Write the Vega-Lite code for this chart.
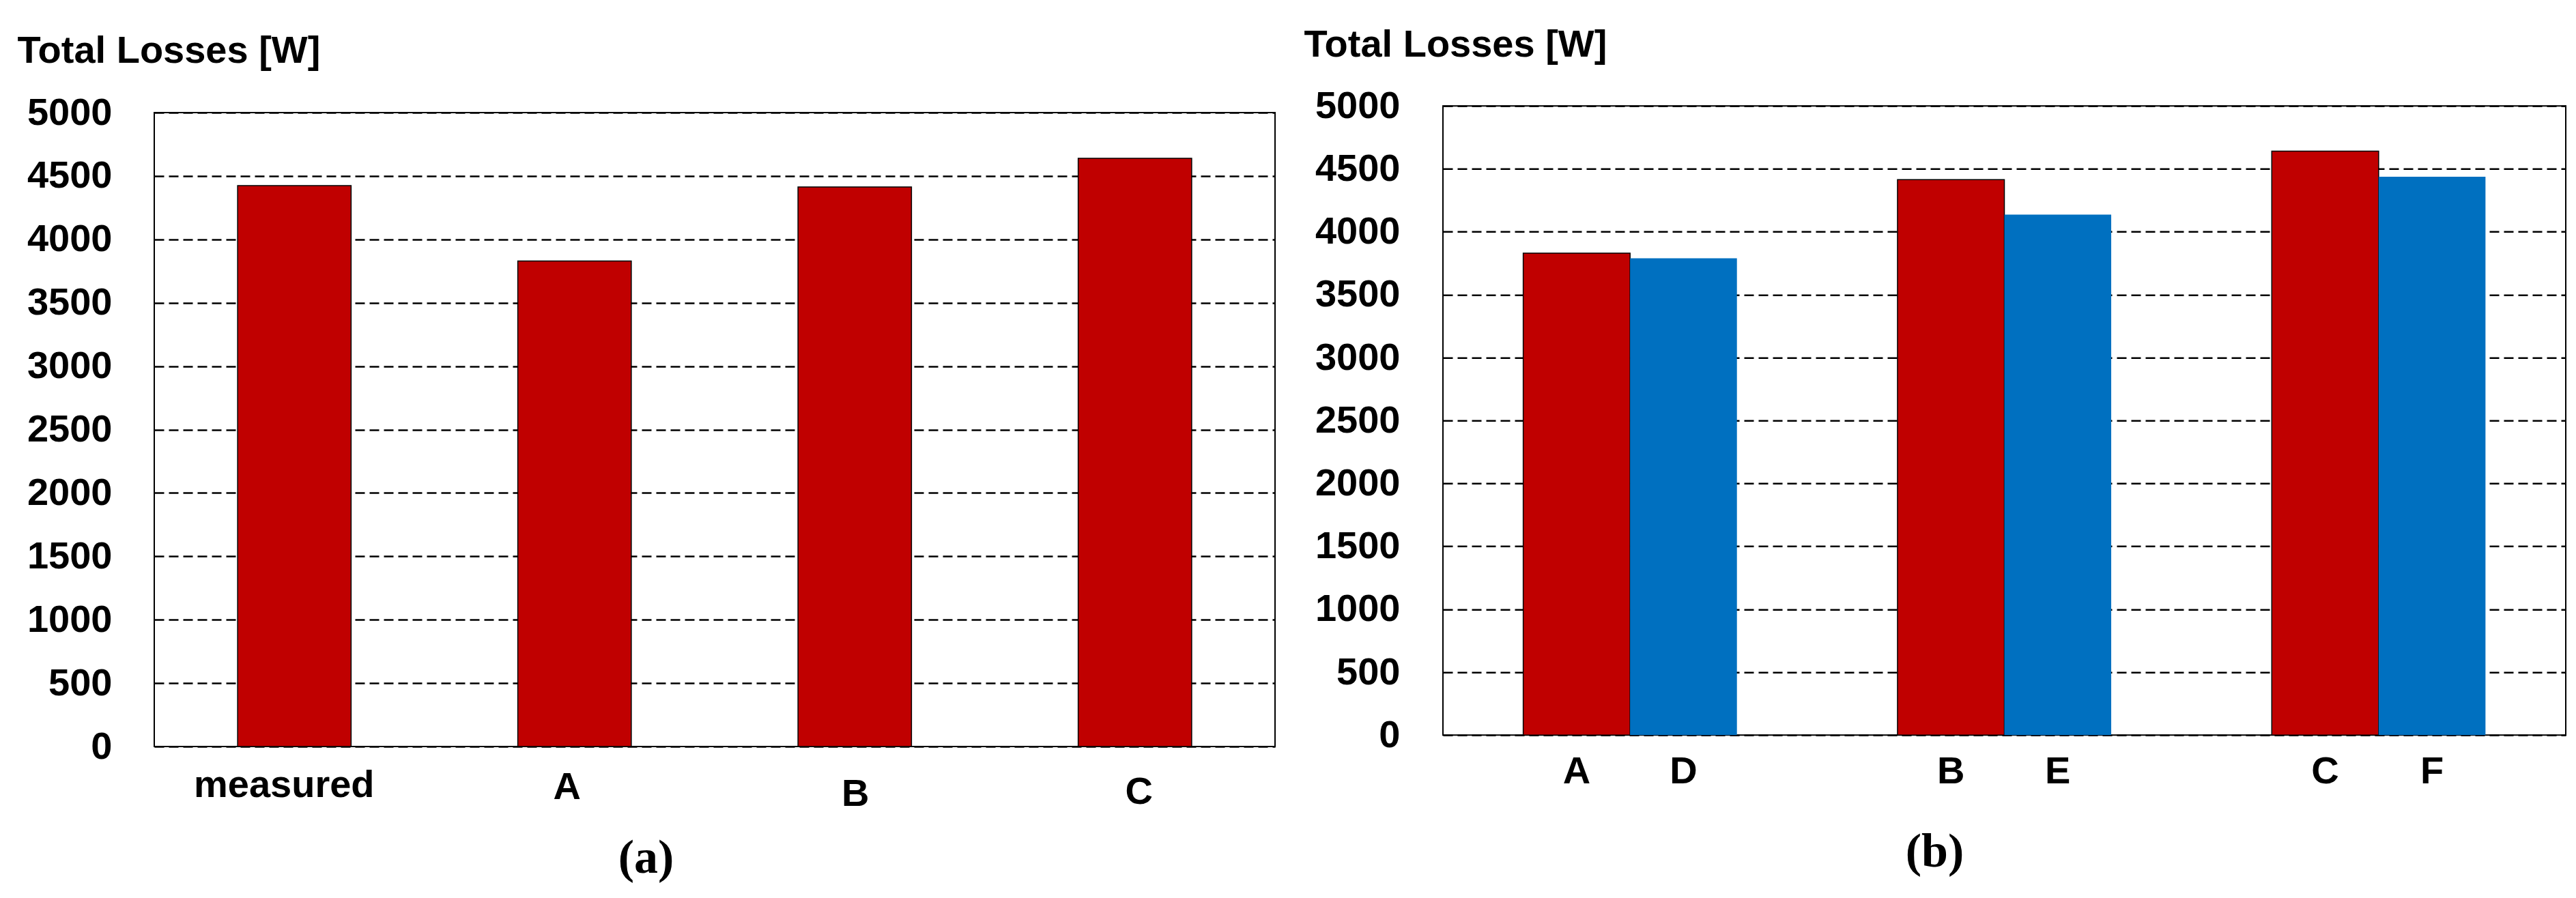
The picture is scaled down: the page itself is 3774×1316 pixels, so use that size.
{
  "$schema": "https://vega.github.io/schema/vega-lite/v6.json",
  "background": "white",
  "padding": {"left": 24, "top": 36, "right": 0, "bottom": 0},
  "spacing": 40,
  "center": true,
  "config": {
    "font": "Liberation Sans",
    "view": {"stroke": "black", "strokeWidth": 2},
    "axis": {
      "labelFont": "Liberation Sans",
      "labelFontSize": 56,
      "labelFontWeight": "bold",
      "labelColor": "black",
      "labelLimit": 0,
      "titleFont": "Liberation Sans",
      "titleFontSize": 56,
      "titleFontWeight": "bold",
      "titleColor": "black",
      "ticks": false,
      "domain": false
    }
  },
  "hconcat": [
    {
      "width": 1642,
      "height": 929,
      "title": {"text": "(a)", "orient": "bottom", "anchor": "middle", "frame": "bounds", "font": "Liberation Serif", "fontSize": 70, "fontWeight": "bold", "color": "black", "offset": 33},
      "data": {"values": [
        {"case": "measured", "losses": 4424},
        {"case": "A", "losses": 3829},
        {"case": "B", "losses": 4414},
        {"case": "C", "losses": 4640}
      ]},
      "mark": {"type": "bar", "color": "#C00000", "stroke": "black", "strokeWidth": 1.5},
      "encoding": {
        "x": {
          "field": "case", "type": "nominal", "sort": null,
          "scale": {"paddingInner": 0.595, "paddingOuter": 0.2975},
          "axis": {
            "title": null, "labelAngle": 0, "grid": false,
            "labelPadding": {"condition": [
              {"test": "datum.value === 'A'", "value": 32},
              {"test": "datum.value === 'B'", "value": 42},
              {"test": "datum.value === 'C'", "value": 39}
            ], "value": 29},
            "labelOffset": {"condition": [
              {"test": "datum.value === 'measured'", "value": -15},
              {"test": "datum.value === 'A'", "value": -11},
              {"test": "datum.value === 'C'", "value": 6}
            ], "value": 1}
          }
        },
        "y": {
          "field": "losses", "type": "quantitative",
          "scale": {"domain": [0, 5000], "nice": false},
          "axis": {
            "values": [0, 500, 1000, 1500, 2000, 2500, 3000, 3500, 4000, 4500, 5000],
            "format": "d",
            "labelPadding": 62,
            "grid": true, "gridColor": "black", "gridWidth": 2.5, "gridDash": [14, 7], "gridOpacity": 1,
            "title": "Total Losses [W]", "titleAngle": 0, "titleAlign": "left", "titleBaseline": "alphabetic",
            "titleX": -201, "titleY": -74
          }
        }
      }
    },
    {
      "width": 1645,
      "height": 922,
      "title": {"text": "(b)", "subtitle": " ", "subtitleFontSize": 18, "subtitlePadding": 0, "orient": "bottom", "anchor": "middle", "frame": "bounds", "font": "Liberation Serif", "fontSize": 70, "fontWeight": "bold", "color": "black", "offset": 56},
      "data": {"values": [
        {"pair": "A/D", "bar": "A", "series": "ABC", "losses": 3830},
        {"pair": "A/D", "bar": "D", "series": "DEF", "losses": 3789},
        {"pair": "B/E", "bar": "B", "series": "ABC", "losses": 4414},
        {"pair": "B/E", "bar": "E", "series": "DEF", "losses": 4136},
        {"pair": "C/F", "bar": "C", "series": "ABC", "losses": 4641},
        {"pair": "C/F", "bar": "F", "series": "DEF", "losses": 4438}
      ]},
      "layer": [
        {
          "mark": {"type": "bar", "strokeWidth": 1.5},
          "encoding": {
            "x": {
              "field": "pair", "type": "nominal", "sort": null,
              "scale": {"paddingInner": 0.429, "paddingOuter": 0.2145},
              "axis": {"title": null, "labels": false, "grid": false}
            },
            "xOffset": {"field": "series", "type": "nominal", "sort": null, "scale": {"paddingInner": 0, "paddingOuter": 0}},
            "y": {
              "field": "losses", "type": "quantitative",
              "scale": {"domain": [0, 5000], "nice": false},
              "axis": {
                "values": [0, 500, 1000, 1500, 2000, 2500, 3000, 3500, 4000, 4500, 5000],
                "format": "d",
                "labelPadding": 63,
                "grid": true, "gridColor": "black", "gridWidth": 2.5, "gridDash": [14, 7], "gridOpacity": 1,
                "title": "Total Losses [W]", "titleAngle": 0, "titleAlign": "left", "titleBaseline": "alphabetic",
                "titleX": -204, "titleY": -73
              }
            },
            "color": {"field": "series", "type": "nominal", "scale": {"domain": ["ABC", "DEF"], "range": ["#C00000", "#0070C0"]}, "legend": null},
            "stroke": {"condition": {"test": "datum.series === 'ABC'", "value": "black"}, "value": "transparent"}
          }
        },
        {
          "mark": {"type": "text", "fontSize": 56, "fontWeight": "bold", "color": "black", "align": "center", "baseline": "alphabetic"},
          "encoding": {
            "x": {"field": "pair", "type": "nominal", "sort": null},
            "xOffset": {"field": "series", "type": "nominal", "sort": null},
            "y": {"datum": -382, "type": "quantitative"},
            "text": {"field": "bar", "type": "nominal"}
          }
        }
      ]
    }
  ]
}
